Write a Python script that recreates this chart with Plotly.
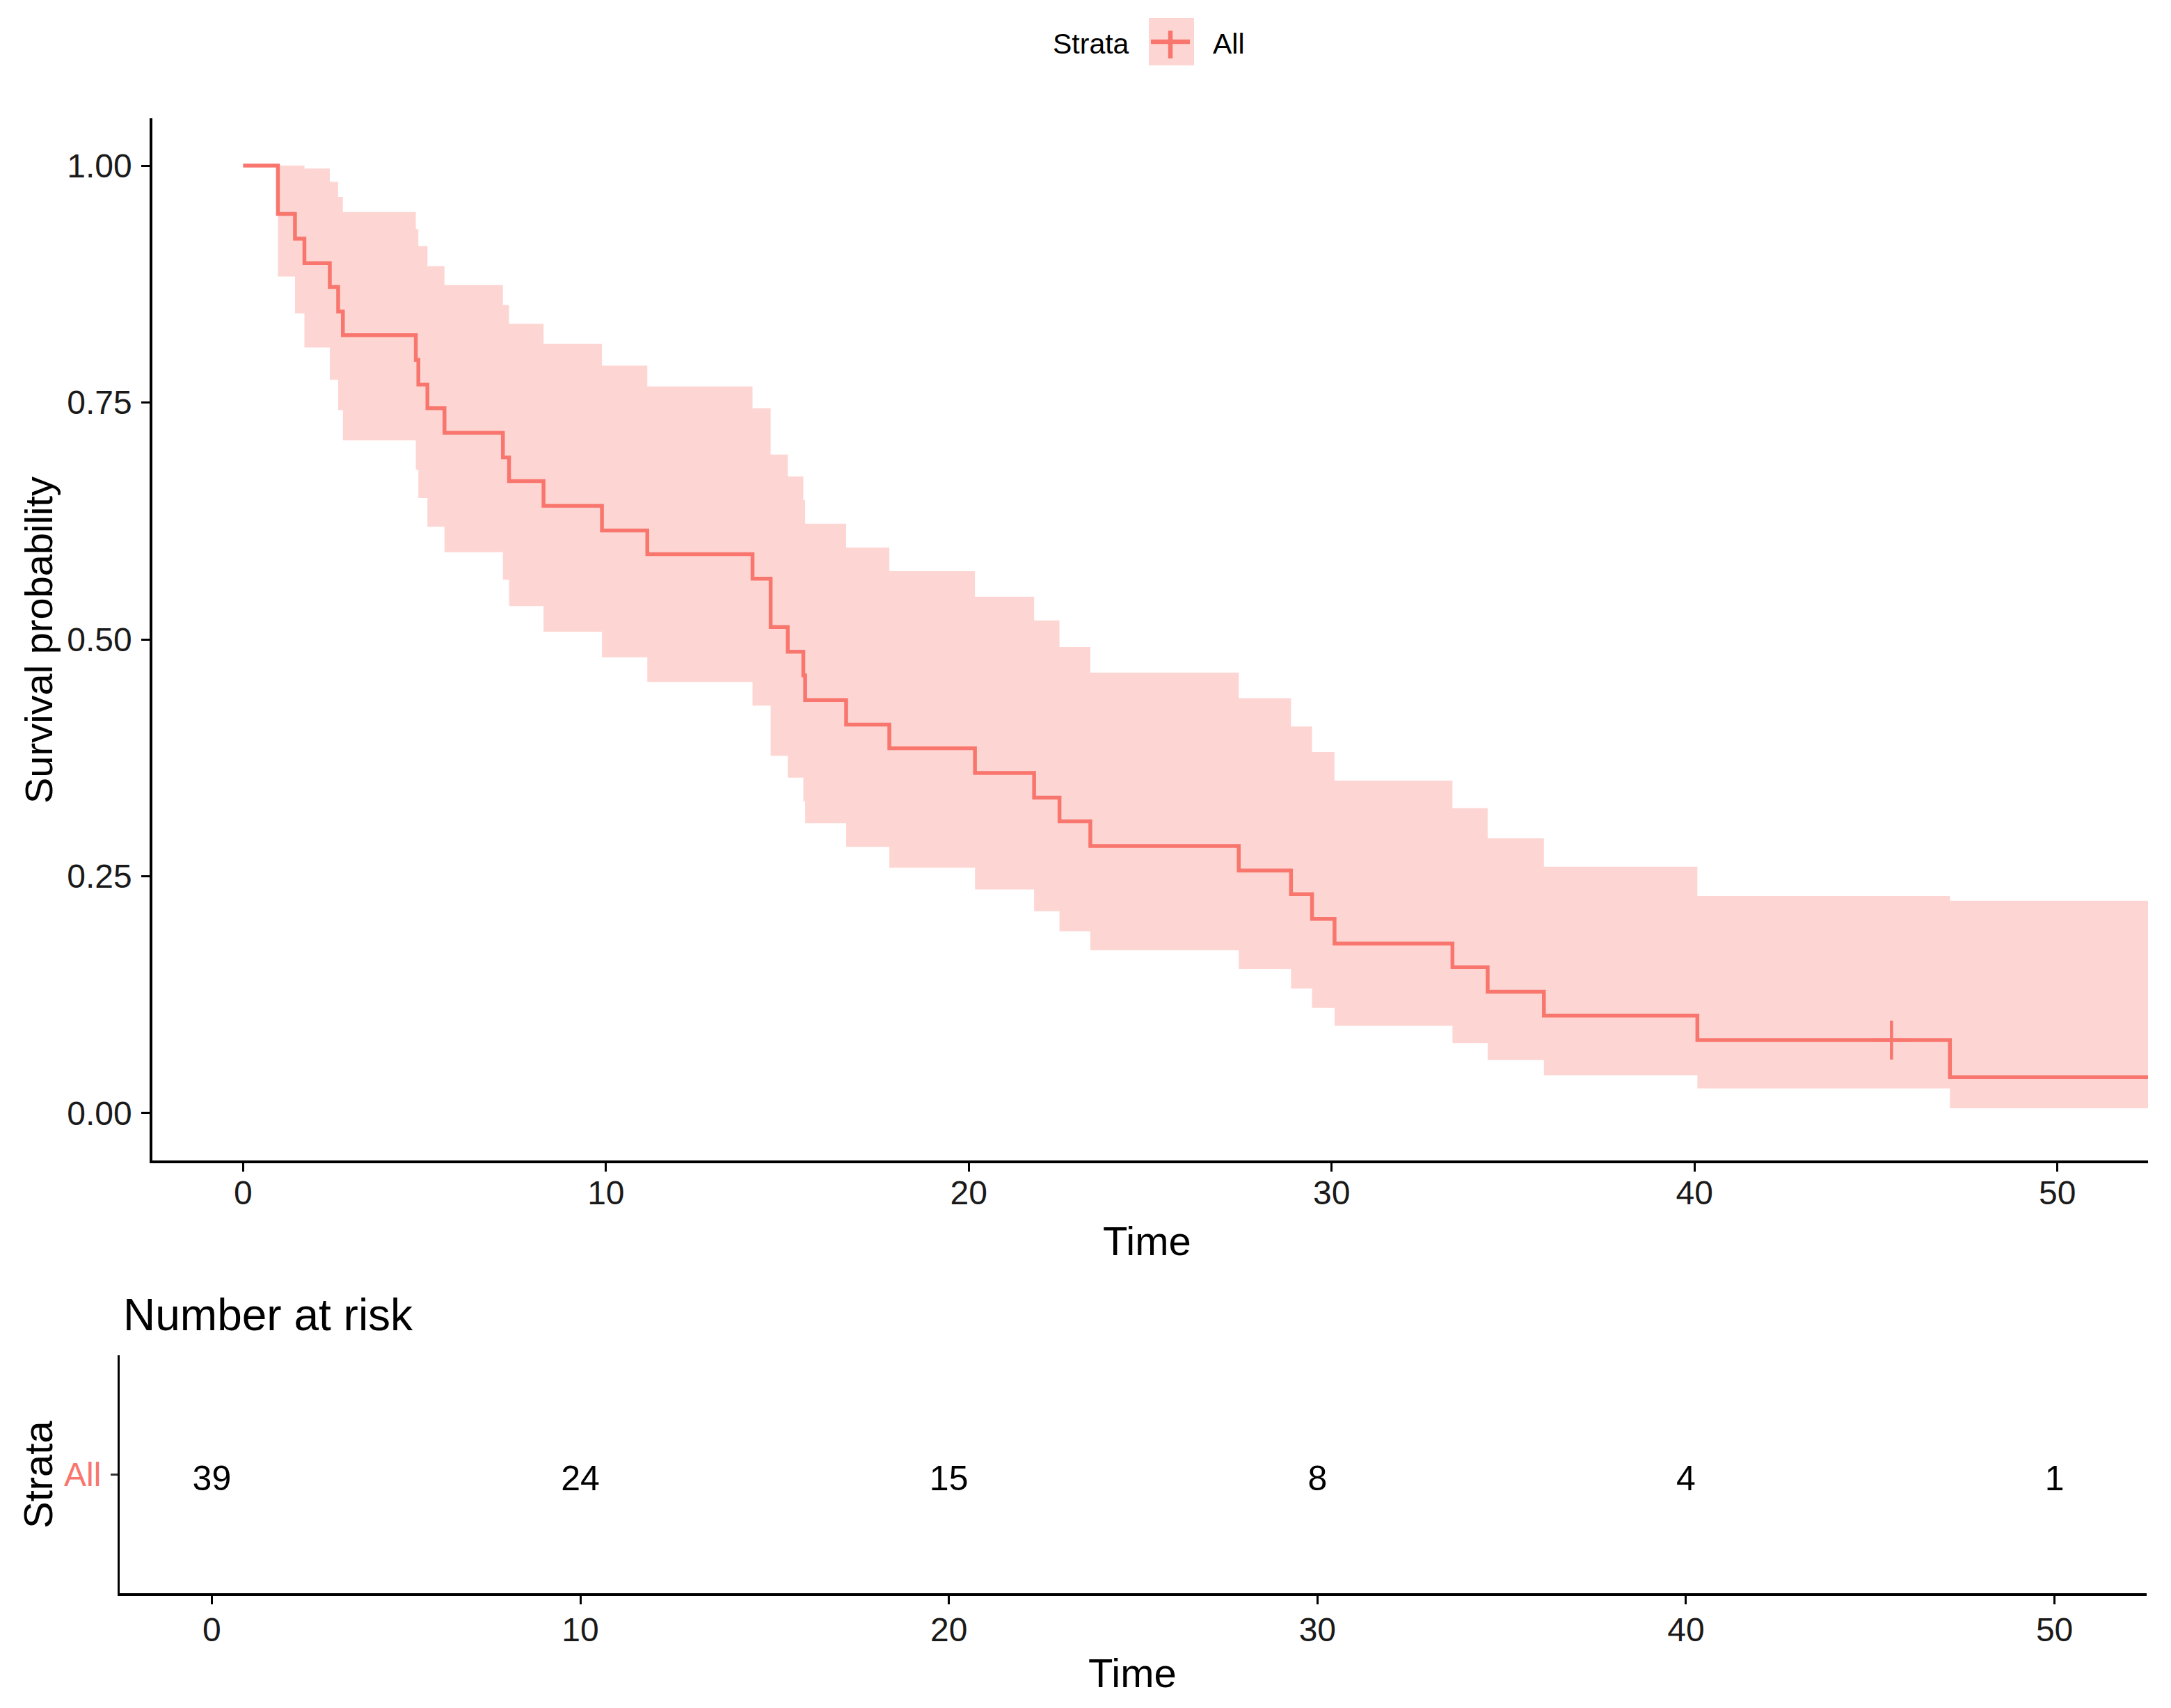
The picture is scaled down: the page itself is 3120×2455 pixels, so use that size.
import plotly.graph_objects as go

# ---- data ----
event_times = [0, 0.96, 1.43, 1.69, 2.39, 2.62, 2.75, 4.76, 4.83, 5.08, 5.55, 7.16, 7.33, 8.28,
               9.89, 11.14, 14.04, 14.54, 15.01, 15.44, 15.49, 16.62, 17.81, 20.17, 21.80, 22.50,
               23.35, 27.44, 28.88, 29.46, 30.08, 33.33, 34.30, 35.85, 40.08, 47.04]
surv = [1.0, 0.949, 0.923, 0.897, 0.872, 0.846, 0.821, 0.795, 0.769, 0.744, 0.718, 0.692, 0.667,
        0.641, 0.615, 0.590, 0.564, 0.513, 0.487, 0.462, 0.436, 0.410, 0.385, 0.359, 0.333, 0.308,
        0.282, 0.256, 0.231, 0.205, 0.179, 0.154, 0.128, 0.103, 0.077, 0.038]
upper = [1.0, 1.0, 1.0, 0.997, 0.983, 0.967, 0.951, 0.933, 0.915, 0.894, 0.874, 0.853, 0.833,
         0.812, 0.789, 0.767, 0.744, 0.695, 0.672, 0.647, 0.622, 0.597, 0.572, 0.545, 0.520, 0.492,
         0.465, 0.438, 0.408, 0.381, 0.351, 0.322, 0.290, 0.260, 0.229, 0.224]
lower = [1.0, 0.883, 0.844, 0.808, 0.774, 0.742, 0.710, 0.679, 0.649, 0.619, 0.592, 0.563, 0.535,
         0.508, 0.481, 0.455, 0.430, 0.377, 0.354, 0.329, 0.306, 0.281, 0.259, 0.236, 0.213, 0.192,
         0.172, 0.152, 0.1315, 0.111, 0.092, 0.074, 0.056, 0.040, 0.026, 0.005]
end_time = 52.5
censor_times = [45.43]
censor_surv = [0.077]

risk_times = [0, 10, 20, 30, 40, 50]
risk_counts = [39, 24, 15, 8, 4, 1]
strata_name = "All"
x_ticks = [0, 10, 20, 30, 40, 50]
y_ticks = [0.0, 0.25, 0.5, 0.75, 1.0]
y_tick_labels = ["0.00", "0.25", "0.50", "0.75", "1.00"]

# ---- style ----
RED = "#F8766D"
BAND = "rgba(248,118,109,0.3)"
FONT = "Liberation Sans, Arial, sans-serif"
OFF = 8                      # default page body margin
FW, FH = 3120 - 2 * OFF, 2455 - 2 * OFF

def pxx(px):
    return (px - OFF) / FW

def py(px):
    return 1 - (px - OFF) / FH

xs = event_times + [end_time]
fig = go.Figure()

fig.add_trace(go.Scatter(x=xs, y=upper + [upper[-1]], mode="lines", line=dict(width=0, shape="hv"),
                         hoverinfo="skip", showlegend=False, xaxis="x", yaxis="y"))
fig.add_trace(go.Scatter(x=xs, y=lower + [lower[-1]], mode="lines", line=dict(width=0, shape="hv"),
                         fill="tonexty", fillcolor=BAND, hoverinfo="skip", showlegend=False,
                         xaxis="x", yaxis="y"))
fig.add_trace(go.Scatter(x=xs, y=surv + [surv[-1]], mode="lines", line=dict(color=RED, width=5.5, shape="hv"),
                         name=strata_name, showlegend=False, xaxis="x", yaxis="y"))
fig.add_trace(go.Scatter(x=censor_times, y=censor_surv, mode="markers",
                         marker=dict(symbol="cross-thin", size=40, line=dict(color=RED, width=4.5)),
                         showlegend=False, xaxis="x", yaxis="y"))

# risk table: invisible trace to carry the strata tick, numbers on an overlaid axis
fig.add_trace(go.Scatter(x=[risk_times[0]], y=[strata_name], mode="markers",
                         marker=dict(opacity=0), hoverinfo="skip",
                         showlegend=False, xaxis="x2", yaxis="y2"))
fig.add_trace(go.Scatter(x=risk_times, y=[strata_name] * len(risk_times), mode="text",
                         text=[str(c) for c in risk_counts],
                         textfont=dict(family=FONT, size=50, color="black"),
                         showlegend=False, xaxis="x2", yaxis="y3"))

axis_common = dict(showgrid=False, zeroline=False, showline=True, linecolor="black", linewidth=3.5,
                   ticks="outside", tickcolor="black", tickwidth=3, ticklen=12,
                   tickfont=dict(family=FONT, size=48, color="#1a1a1a"))

fig.update_layout(
    width=FW, height=FH,
    margin=dict(l=0, r=0, t=0, b=0),
    paper_bgcolor="white", plot_bgcolor="white",
    showlegend=False,
    xaxis=dict(domain=[pxx(219), pxx(3087)], range=[-2.5, 52.5], tickvals=x_ticks,
               anchor="y", ticklabelstandoff=-10, **axis_common),
    yaxis=dict(domain=[py(1668), py(170)], range=[-0.05, 1.05], tickvals=y_ticks,
               ticktext=y_tick_labels, anchor="x", ticklabelstandoff=4, **axis_common),
    xaxis2=dict(domain=[pxx(172), pxx(3085)], range=[-2.5, 52.5], tickvals=x_ticks,
                anchor="y2", ticklabelstandoff=-4, **axis_common),
    yaxis2=dict(domain=[py(2290), py(1948)], range=[-0.5, 0.5], anchor="x2",
                type="category", showgrid=False, zeroline=False, showline=True, linecolor="black",
                linewidth=3, ticks="outside", tickcolor="#333333", tickwidth=2.5, ticklen=10,
                ticklabelstandoff=4,
                tickfont=dict(family=FONT, size=48, color=RED)),
    yaxis3=dict(overlaying="y2", anchor="x2", type="category", range=[-0.47, 0.53],
                visible=False, showgrid=False, zeroline=False),
)

ann = []
def text(x, y, s, size, angle=0, xanchor="center", color="black"):
    ann.append(dict(x=x, y=y, xref="paper", yref="paper", text=s, showarrow=False,
                    textangle=angle, xanchor=xanchor, yanchor="middle",
                    font=dict(family=FONT, size=size, color=color)))

text(pxx(1648), py(1783), "Time", 58)
text(pxx(55), py(920), "Survival probability", 56, angle=-90)
text(pxx(175), py(1890), "Number at risk", 64, xanchor="left")
text(pxx(54), py(2120), "Strata", 58, angle=-90)
text(pxx(1627), py(2404), "Time", 58)
# legend
text(pxx(1568), py(63), "Strata", 41)
text(pxx(1766), py(63), strata_name, 41)
fig.update_layout(annotations=ann)

shapes = [
    dict(type="rect", xref="paper", yref="paper", x0=pxx(1651), x1=pxx(1716), y0=py(94), y1=py(26),
         fillcolor=BAND, line=dict(width=0)),
    dict(type="line", xref="paper", yref="paper", x0=pxx(1654), x1=pxx(1710), y0=py(60), y1=py(60),
         line=dict(color=RED, width=6.5)),
    dict(type="line", xref="paper", yref="paper", x0=pxx(1682), x1=pxx(1682), y0=py(44), y1=py(84),
         line=dict(color=RED, width=6.5)),
]
fig.update_layout(shapes=shapes)

fig.write_html("out.html")
